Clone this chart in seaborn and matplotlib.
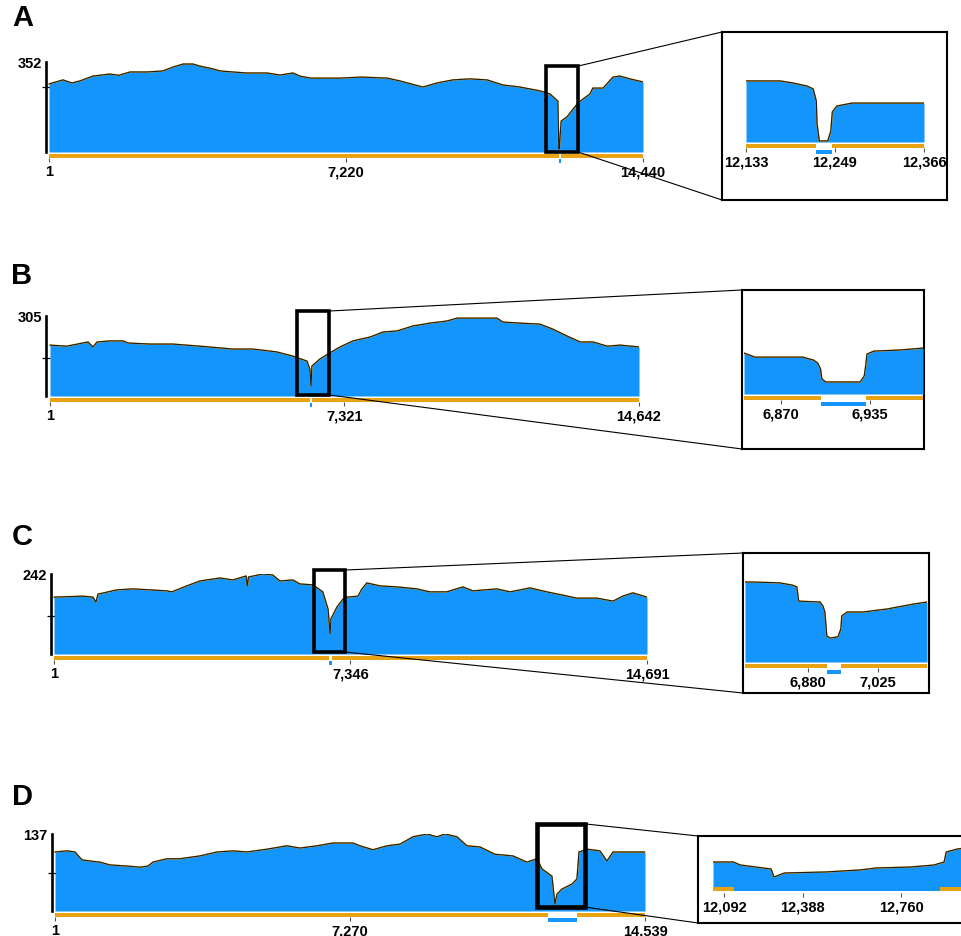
import matplotlib
matplotlib.use('Agg')
import matplotlib.pyplot as plt
import seaborn as sns
from matplotlib.patches import Rectangle, ConnectionPatch
from matplotlib.ticker import FixedLocator

sns.set_style('white')
plt.rcParams['font.family'] = ['Liberation Sans', 'DejaVu Sans']
plt.rcParams['font.weight'] = 'bold'
plt.rcParams['text.color'] = 'black'
plt.rcParams['xtick.labelcolor'] = 'black'
plt.rcParams['ytick.labelcolor'] = 'black'

W, H = 961, 937
BLUE = '#1395fb'
ORANGE = '#e8a213'
EDGE = '#1c1c1c'

# --- coverage profiles (position, depth) ---
a_pos = [1, 340, 560, 755, 1070, 1480, 1700, 1970, 2380, 2770, 3010, 3260, 3500, 3670, 3990,
         4160, 4470, 4810, 5300, 5620, 5930, 6100, 6350, 6590, 7070, 7600, 8220, 8530, 9090, 9430,
         9820, 10230, 10650, 11040, 11450, 11940, 12180, 12370, 12395, 12405, 12450, 12590, 12840,
         12980, 13150, 13220, 13470, 13710, 13880, 14120, 14440]
a_cov = [266, 282, 270, 278, 297, 305, 300, 313, 313, 317, 332, 344, 344, 336, 325,
         317, 313, 309, 309, 301, 309, 297, 289, 289, 289, 293, 289, 278, 254, 270,
         282, 286, 282, 262, 254, 239, 227, 199, 12, 12, 121, 137, 188,
         207, 227, 250, 250, 293, 297, 286, 274]

b_pos = [1, 420, 945, 1070, 1170, 1490, 1815, 1940, 2490, 3060, 3730, 4550, 5050, 5640, 6040,
         6390, 6460, 6490, 6510, 6710, 6910, 7210, 7530, 7960, 8280, 8630, 9020, 9450, 9870, 10120,
         10690, 11110, 11260, 11680, 12180, 12500, 12850, 13180, 13500, 13850, 14170, 14642]
b_cov = [194, 190, 206, 187, 206, 210, 210, 202, 198, 198, 190, 179, 179, 168, 152,
         133, 103, 38, 114, 141, 160, 187, 210, 225, 244, 248, 267, 278, 286, 297,
         297, 297, 282, 278, 274, 255, 229, 206, 206, 190, 194, 187]

c_pos = [1, 718, 966, 1040, 1090, 1560, 1960, 2800, 2920, 3290, 3620, 4110, 4430, 4760, 4790,
         4820, 5180, 5420, 5600, 5920, 6090, 6420, 6660, 6790, 6840, 6860, 7010, 7160, 7260, 7530,
         7630, 7750, 8080, 8500, 8990, 9310, 9730, 10130, 10380, 10970, 11300, 11790, 12210, 12610,
         12950, 13450, 13850, 14090, 14340, 14691]
c_cov = [172, 175, 172, 157, 181, 194, 197, 191, 188, 206, 221, 230, 224, 236, 206,
         233, 242, 239, 221, 224, 212, 209, 188, 136, 61, 106, 142, 166, 172, 175,
         197, 215, 206, 203, 197, 188, 188, 203, 191, 197, 188, 200, 188, 178,
         169, 169, 160, 175, 185, 172]

d_pos = [1, 296, 493, 665, 862, 1109, 1355, 1774, 2094, 2292, 2415, 2760, 3080, 3573, 3992,
         4386, 4731, 5224, 5716, 6037, 6456, 6850, 7343, 7515, 7836, 8181, 8501, 8821, 9166, 9413,
         9610, 9906, 10152, 10472, 10842, 11285, 11630, 11877, 12000, 12246, 12320, 12369, 12492,
         12739, 12862, 12912, 13109, 13429, 13602, 13750, 14168, 14539]
d_cov = [105, 107, 105, 91, 89, 87, 82, 80, 78, 80, 87, 93, 93, 98, 105,
         107, 105, 110, 116, 112, 116, 121, 121, 116, 109, 116, 119, 132, 137, 132,
         137, 132, 116, 114, 101, 98, 87, 93, 75, 62, 12, 30, 39,
         48, 57, 105, 110, 107, 89, 105, 105, 105]

# zoomed windows
a_zpos = [12133, 12178, 12195, 12213, 12221, 12225, 12226, 12229, 12240, 12244, 12246, 12252, 12272, 12366]
a_zcov = [229, 229, 221, 210, 199, 154, 68, 4, 4, 41, 113, 135, 146, 146]
b_zpos = [6843, 6851, 6886, 6894, 6897, 6899, 6900, 6903, 6928, 6931, 6932, 6933, 6938, 6957, 6974]
b_zcov = [150, 135, 135, 124, 113, 92, 55, 44, 44, 66, 102, 146, 157, 161, 168]
c_zpos = [6750, 6766, 6822, 6847, 6857, 6861, 6905, 6911, 6915, 6919, 6926, 6942, 6948, 6950,
          6961, 6994, 7044, 7097, 7126]
c_zcov = [184, 184, 182, 177, 173, 140, 138, 129, 115, 60, 55, 58, 76, 106, 115, 115, 122, 133, 138]
d_zpos = [12050, 12127, 12153, 12269, 12280, 12319, 12472, 12603, 12664, 12795, 12883, 12921,
          12929, 12971, 13002, 13094]
d_zcov = [75, 75, 66, 54, 30, 42, 45, 51, 57, 60, 66, 75, 105, 114, 117, 117]

# axis values
y_max = [352, 305, 242, 137]
y_mid = [254, 145, 115, 68]
genome_len = [14440, 14642, 14691, 14539]
main_ticks = [[1, 7220, 14440], [1, 7321, 14642], [1, 7346, 14691], [1, 7270, 14539]]
zoom_ticks = [[12133, 12249, 12366], [6870, 6935], [6880, 7025], [12092, 12388, 12760]]
zoom_range = [(12133, 12366), (6843, 6974), (6750, 7126), (12050, 13094)]
deletions = [(12224, 12246), (6899, 6932), (6919, 6948), (12130, 12906)]
main_del = [(12400, 12440), (6475, 6510), (6810, 6880), (12147, 12862)]
roi = [(12080, 12860, 0, 336), (6140, 6936, 4, 324), (6440, 7208, 6, 254), (11877, 13059, 7, 155)]
letters = ['A', 'B', 'C', 'D']

# layout in pixels (x0, y0, x1, y1)
main_px = [(46, 63, 643, 153), (46, 317, 639, 397), (51, 575, 647, 655), (52, 835, 645, 912)]
main_xstart = [-72, -98, -73, -73]
box_px = [(722, 33, 947, 201), (742, 291, 924, 450), (743, 554, 929, 694), (698, 837, 990, 924)]
inner_px = [(746, 40, 924, 143), (744, 296, 923, 395), (745, 559, 927, 663), (713, 842, 990, 888)]
zoom_scale = [3.75, 3.66, 2.3, 3.0]
letter_xy = [(23, 18), (22, 276), (22, 537), (22, 797)]
roi_lw = [2.6, 2.6, 2.6, 3.3]

profiles = [(a_pos, a_cov), (b_pos, b_cov), (c_pos, c_cov), (d_pos, d_cov)]
zprofiles = [(a_zpos, a_zcov), (b_zpos, b_zcov), (c_zpos, c_zcov), (d_zpos, d_zcov)]


def fig_box(x0, y0, x1, y1):
    return [x0 / W, 1 - y1 / H, (x1 - x0) / W, (y1 - y0) / H]


def draw_profile(ax, pos, cov):
    ax.fill_between(pos, cov, 0, color=BLUE, lw=0)
    sns.lineplot(x=pos, y=cov, ax=ax, color=ORANGE, lw=1.1, estimator=None, sort=False)
    sns.lineplot(x=pos, y=cov, ax=ax, color=EDGE, lw=0.8, estimator=None, sort=False)


def draw_bars(ax, x0, x1, dele, s, orange_px, blue_px):
    oy = (-orange_px[1] * s, -orange_px[0] * s)
    by = (-blue_px[1] * s, -blue_px[0] * s)
    ax.fill_between([x0, dele[0]], oy[0], oy[1], color=ORANGE, lw=0, clip_on=False)
    ax.fill_between([dele[1], x1], oy[0], oy[1], color=ORANGE, lw=0, clip_on=False)
    ax.fill_between([dele[0], dele[1]], by[0], by[1], color=BLUE, lw=0, clip_on=False)


def style_xticks(ax, ticks, outward):
    ax.set_xticks(ticks, ['{:,}'.format(t) for t in ticks])
    for side in ['top', 'right', 'bottom']:
        ax.spines[side].set_color('none')
    ax.spines['bottom'].set_position(('outward', outward))
    ax.tick_params(axis='x', bottom=True, length=3, width=0.8, color='#555555',
                   labelsize=10.5, pad=1.5)


fig = plt.figure(figsize=(W / 100, H / 100), dpi=100)

for i in range(4):
    pos, cov = profiles[i]
    x0, y0, x1, y1 = main_px[i]
    ax = fig.add_axes(fig_box(*main_px[i]))
    ax.set_facecolor('none')
    draw_profile(ax, pos, cov)
    ax.set_xlim(main_xstart[i], genome_len[i])
    ax.set_ylim(0, y_max[i])
    s = y_max[i] / (y1 - y0)
    draw_bars(ax, 1, genome_len[i], main_del[i], s, (2, 5.5), (7, 11))
    style_xticks(ax, main_ticks[i], 4.5)
    ax.spines['left'].set_color('black')
    ax.spines['left'].set_linewidth(1.9)
    ax.set_yticks([y_max[i]], [str(y_max[i])])
    ax.yaxis.set_minor_locator(FixedLocator([y_mid[i]]))
    ax.tick_params(axis='y', which='major', left=True, length=0, labelsize=10.5, pad=3)
    ax.tick_params(axis='y', which='minor', left=True, direction='inout', length=6,
                   width=0.9, color='black')
    ax.set_xlabel('')
    ax.set_ylabel('')

    # region of interest frame
    rx0, rx1, ry0, ry1 = roi[i]
    ax.add_patch(Rectangle((rx0, ry0), rx1 - rx0, ry1 - ry0, fill=False, ec='black',
                           lw=roi_lw[i], clip_on=False, zorder=5))

    # zoom box
    bx = fig.add_axes(fig_box(*box_px[i]))
    bx.set_xticks([])
    bx.set_yticks([])
    for sp in bx.spines.values():
        sp.set_visible(True)
        sp.set_color('black')
        sp.set_linewidth(1.5)

    zx0, zy0, zx1, zy1 = inner_px[i]
    zx = fig.add_axes(fig_box(*inner_px[i]))
    zx.set_facecolor('none')
    zpos, zcov = zprofiles[i]
    draw_profile(zx, zpos, zcov)
    zx.set_xlim(*zoom_range[i])
    zx.set_ylim(0, (zy1 - zy0) * zoom_scale[i])
    zs = zoom_scale[i]
    if i == 3:
        draw_bars(zx, zoom_range[i][0], zoom_range[i][1] + 200, deletions[i], zs, (0, 4), (0, 4))
    else:
        draw_bars(zx, zoom_range[i][0], zoom_range[i][1], deletions[i], zs, (1.5, 5.5), (8, 12))
    style_xticks(zx, zoom_ticks[i], 4.5)
    zx.spines['left'].set_color('none')
    zx.set_yticks([])
    zx.set_xlabel('')
    zx.set_ylabel('')

    for cy, by in [(ry1, 1), (ry0, 0)]:
        con = ConnectionPatch(xyA=(rx1, cy), coordsA=ax.transData, xyB=(0, by),
                              coordsB=bx.transAxes, color='black', lw=0.8, zorder=6)
        fig.add_artist(con)

    lx, ly = letter_xy[i]
    fig.text(lx / W, 1 - ly / H, letters[i], fontsize=21, fontweight='bold',
             ha='center', va='center')

fig.savefig('out.png', dpi=100)
